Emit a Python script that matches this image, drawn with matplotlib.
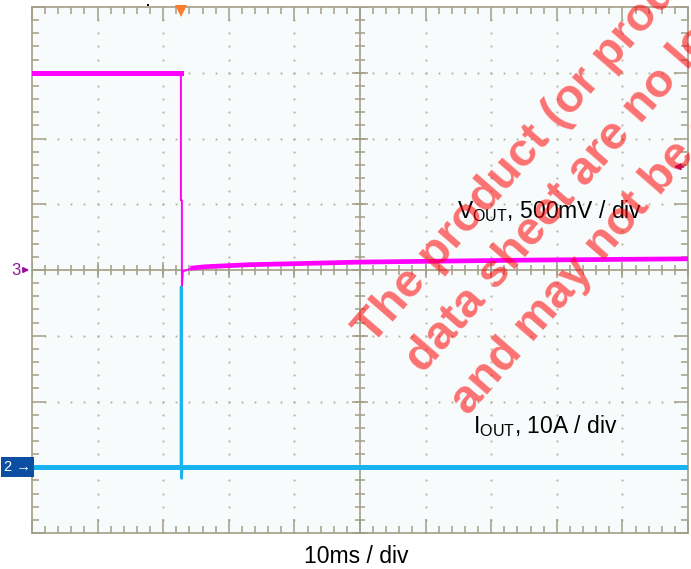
import numpy as np
import matplotlib.pyplot as plt
from matplotlib import transforms

plt.rcParams['font.family'] = ['Liberation Sans', 'DejaVu Sans']
plt.rcParams['mathtext.fontset'] = 'custom'
plt.rcParams['mathtext.rm'] = 'Liberation Sans'

# scope traces, time in div (10ms/div), level in div above each channel marker
vout_t = [0.0, 2.27, 2.27, 2.285, 2.285, 2.30, 2.45, 2.65, 3.3, 5.0, 7.5, 10.0]
vout_v = [3.0, 3.0, 1.06, 1.06, -0.25, -0.02, 0.03, 0.05, 0.08, 0.12, 0.15, 0.17]
iout_t = [0.0, 2.27, 2.27, 2.28, 2.28, 2.29, 10.0]
iout_v = [0.0, 0.0, 2.74, 2.74, -0.17, 0.0, 0.0]
vout_ref = 0.0     # ch3 marker
iout_ref = -3.0    # ch2 marker
trig_t = 2.27
trig_level = 1.57
dot_t = 1.77

labels = [r'V$_{\mathrm{OUT}}$, 500mV / div', r'I$_{\mathrm{OUT}}$, 10A / div']
xlabel = '10ms / div'
watermark = ['The product (or products) listed in this',
             'data sheet are no longer in production',
             'and may not be ordered']

frame = '#a39e86'
dotc = '#b3ae98'
magenta = '#ff00ff'
cyan = '#17b4f0'
purple = '#9a0fa0'

fig = plt.figure(figsize=(6.91, 5.69), dpi=100)
ax = fig.add_axes([32/691, 36/569, 656/691, 526/569])
ax.set_facecolor('#f7fbfb')
ax.set_xlim(0, 10)
ax.set_ylim(-4, 4)

ax.set_xticks(np.arange(0, 10.01, 1))
ax.set_xticks(np.arange(0, 10.01, 0.2), minor=True)
ax.set_yticks(np.arange(-4, 4.01, 1))
ax.set_yticks(np.arange(-4, 4.01, 0.2), minor=True)
ax.tick_params(which='both', direction='in', top=True, right=True, color=frame,
               width=1.1, labelbottom=False, labelleft=False)
ax.tick_params(which='major', length=10)
ax.tick_params(which='minor', length=5)
for s in ax.spines.values():
    s.set_color(frame)
    s.set_linewidth(1.2)

# dotted graticule
ys = np.arange(-4, 4.01, 0.2)
xs = np.arange(0, 10.01, 0.2)
for gx in [1, 2, 3, 4, 6, 7, 8, 9]:
    ax.plot([gx] * len(ys), ys, ls='none', marker='s', ms=1.3, mew=0, color=dotc, zorder=1)
for gy in [-3, -2, -1, 1, 2, 3]:
    ax.plot(xs, [gy] * len(xs), ls='none', marker='s', ms=1.3, mew=0, color=dotc, zorder=1)

# centre cross with ticks
ax.axhline(0, color=frame, lw=1.2, zorder=1)
ax.axvline(5, color=frame, lw=1.2, zorder=1)
ax.plot(xs, np.zeros(len(xs)), ls='none', marker='|', ms=7, mew=1.1, color=frame, zorder=1)
ax.plot(np.arange(0, 10.01, 1), np.zeros(11), ls='none', marker='|', ms=12, mew=1.1, color=frame, zorder=1)
ax.plot(np.full(len(ys), 5), ys, ls='none', marker='_', ms=7, mew=1.1, color=frame, zorder=1)
ax.plot(np.full(9, 5), np.arange(-4, 4.01, 1), ls='none', marker='_', ms=12, mew=1.1, color=frame, zorder=1)

# traces
vt = np.array(vout_t); vv = np.array(vout_v) + vout_ref
it = np.array(iout_t); iv = np.array(iout_v) + iout_ref
ax.plot(vt, vv, color=magenta, lw=1.4, zorder=3)
ax.plot(vt[:2], vv[:2], color=magenta, lw=3.6, zorder=3)
ax.plot(vt[6:], vv[6:], color=magenta, lw=3.4, zorder=3)
ax.plot(it, iv, color=cyan, lw=1.8, zorder=3)
ax.plot(it[:2], iv[:2], color=cyan, lw=3.6, zorder=3)
ax.plot(it[5:], iv[5:], color=cyan, lw=3.6, zorder=3)

ax.text(6.48, 0.79, labels[0], fontsize=16.5, color='black', zorder=4)
ax.text(6.73, -2.48, labels[1], fontsize=16.5, color='black', zorder=4)
fig.text(356/691, 6/569, xlabel, fontsize=16.5, ha='center', va='baseline')

# channel markers
trans = transforms.blended_transform_factory(ax.transAxes, ax.transData)
ax.text(-0.024, vout_ref, '3', transform=trans, ha='center', va='center',
        color=purple, fontsize=12)
ax.annotate('', xy=(0.0, vout_ref), xytext=(-0.016, vout_ref), xycoords=trans,
            arrowprops=dict(arrowstyle='-|>', color=purple, lw=1.2, mutation_scale=8),
            annotation_clip=False)
ax.text(-0.002, iout_ref, '2 \u2192', transform=trans, ha='right', va='center',
        color='white', fontsize=10.5,
        bbox=dict(boxstyle='square,pad=0.22', fc='#0b4ea2', ec='none'))
ax.annotate('', xy=(9.74, trig_level + vout_ref), xytext=(9.97, trig_level + vout_ref),
            arrowprops=dict(arrowstyle='-|>', color=purple, lw=1.3, mutation_scale=9))

down = transforms.offset_copy(ax.transData, fig=fig, y=-3.2, units='points')
ax.plot(trig_t, 4, marker='v', ms=9, mew=0, color='#ff7a2a', transform=down,
        clip_on=False, zorder=5)
up = transforms.offset_copy(ax.transData, fig=fig, y=1.5, units='points')
ax.plot(dot_t, 4, marker='s', ms=2, mew=0, color='black', transform=up, clip_on=False)

# watermark
anchors = [(372, 345), (423, 374), (468, 416)]
for (px, py), line in zip(anchors, watermark):
    fig.text(px/691, (569 - py)/569, line, rotation=49, rotation_mode='anchor',
             ha='left', va='baseline', fontsize=34, fontweight='bold',
             color='red', alpha=0.55)

fig.savefig('out.png', dpi=100)
